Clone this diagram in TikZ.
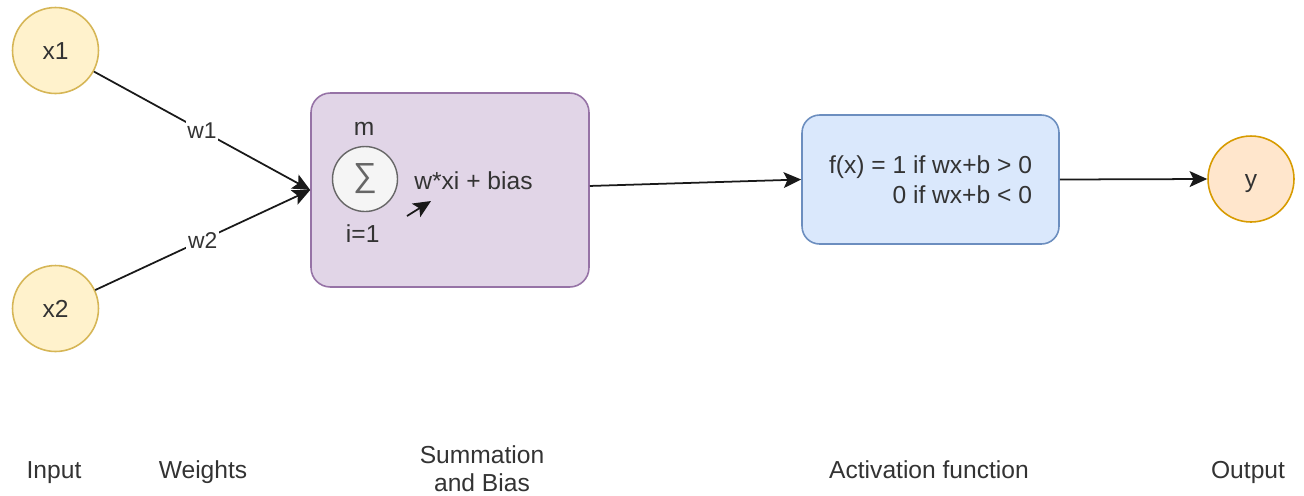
\documentclass[tikz,border=0pt]{standalone}
\usepackage{fontspec}
\setmainfont{Liberation Sans}
\usetikzlibrary{arrows.meta}

\definecolor{txt}{HTML}{333333}
\definecolor{yellowfill}{HTML}{FFF2CC}
\definecolor{yellowline}{HTML}{D6B656}
\definecolor{purplefill}{HTML}{E1D5E7}
\definecolor{purpleline}{HTML}{9673A6}
\definecolor{bluefill}{HTML}{DAE8FC}
\definecolor{blueline}{HTML}{6C8EBF}
\definecolor{orangefill}{HTML}{FFE6CC}
\definecolor{orangeline}{HTML}{D79B00}
\definecolor{sigfill}{HTML}{F5F5F5}
\definecolor{sigline}{HTML}{666666}

\tikzset{
  lbl/.style={text=txt, font=\fontsize{14}{16}\selectfont, inner sep=0pt},
  circnode/.style={circle, line width=0.9pt, minimum size=1.72cm, inner sep=0pt,
    text=txt, font=\fontsize{14}{16}\selectfont, text height=10pt, text depth=0pt},
  inputnode/.style={circnode, draw=yellowline, fill=yellowfill},
  outputnode/.style={circnode, draw=orangeline, fill=orangefill},
  sumbox/.style={rectangle, rounded corners=11pt, line width=0.9pt,
    draw=purpleline, fill=purplefill, minimum width=5.56cm, minimum height=3.88cm},
  actbox/.style={rectangle, rounded corners=10pt, line width=0.9pt,
    draw=blueline, fill=bluefill, minimum width=5.14cm, minimum height=2.58cm,
    align=right, text=txt, font=\fontsize{14}{17}\selectfont},
  sigmanode/.style={circle, line width=0.8pt, draw=sigline, fill=sigfill,
    minimum size=1.3cm, inner sep=0pt, text=sigline, font=\fontsize{19}{19}\selectfont},
  conn/.style={line width=1pt, draw=black!90,
    -{Stealth[length=10pt, width=9pt, inset=2.2pt]}},
  wlabel/.style={fill=white, text=txt, font=\fontsize{13}{15}\selectfont,
    inner sep=1pt, text height=9.3pt, text depth=0pt},
}

\begin{document}
\begin{tikzpicture}[x=0.02cm, y=-0.02cm]
  % canvas
  \fill[white] (0,0) rectangle (1304,495);
  \useasboundingbox (0,0) rectangle (1304,495);

  % inputs
  \node[inputnode] (x1) at (55.5,50.5) {x1};
  \node[inputnode] (x2) at (55.5,308.5) {x2};

  % summation and bias block
  \node[sumbox] (sum) at (450,190) {};
  \node[sigmanode] (sig) at (365,179) {∑};
  \node[lbl, anchor=base] (supm) at (364,135) {m};
  \node[lbl, anchor=base] (subi) at (362.7,242.5) {i=1};
  \node[lbl, anchor=base west] (term) at (414,189) {w*xi + bias};
  \coordinate (tail) at (407,216);
  \coordinate (head) at (431,201);
  \draw[conn] (tail) -- (head);

  % activation
  \node[actbox] (act) at (930.5,179.5) {f(x) = 1 if wx+b {>} 0\\0 if wx+b {<} 0};

  % output
  \node[outputnode] (y) at (1251,179) {y};

  % connectors
  \draw[conn] (x1) -- node[wlabel] (w1) {w1} (sum.west);
  \draw[conn] (x2) -- node[wlabel] (w2) {w2} (sum.west);
  \draw[conn] ([yshift=2.3pt]sum.east) -- (act.west);
  \draw[conn] (act.east) -- (y.west);

  % stage captions
  \node[lbl, anchor=base] (capin) at (54,478) {Input};
  \node[lbl, anchor=base] (capw) at (203,478) {Weights};
  \node[lbl, align=center, font=\fontsize{14}{15.9}\selectfont] (caps) at (482,469) {Summation\\and Bias};
  \node[lbl, anchor=base] (capa) at (929,478) {Activation function};
  \node[lbl, anchor=base] (capo) at (1248,478) {Output};
\end{tikzpicture}
\end{document}
